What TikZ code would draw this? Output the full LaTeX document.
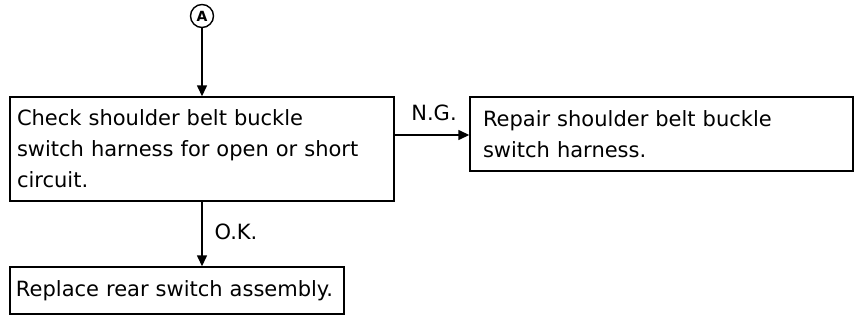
\documentclass[tikz,border=0pt]{standalone}
\usepackage{fontspec}
\setmainfont{DejaVu Sans}
\usetikzlibrary{arrows.meta}
\begin{document}
\begin{tikzpicture}[x=1pt,y=1pt,
  every node/.style={font=\fontsize{21}{31}\selectfont},
  box/.style={draw, line width=1.4pt, align=left, inner ysep=0pt, anchor=center},
  conn/.style={line width=1.4pt, -{Triangle[length=11pt,width=10pt]}},
  lbl/.style={inner sep=0pt}]
\useasboundingbox (0,0) rectangle (859,325);
\node[draw, circle, line width=1.4pt, minimum size=23pt, inner sep=0pt,
      font=\fontsize{14}{14}\selectfont\bfseries] (A) at (202,309) {A};
\node[box, minimum width=384pt, minimum height=104pt, text width=370pt, inner xsep=7pt]
  (b1) at (202,176) {Check shoulder belt buckle\\switch harness for open or short\\circuit.};
\node[box, minimum width=383pt, minimum height=74pt, text width=357pt, inner xsep=13pt]
  (b2) at (661.5,191) {Repair shoulder belt buckle\\switch harness.};
\node[box, minimum width=334pt, minimum height=47pt, text width=322pt, inner xsep=6pt]
  (b3) at (177,34.5) {\mbox{Replace rear switch assembly.}};
\coordinate (ngy) at (0,190);
\draw[conn] (A) -- (b1.north -| A);
\draw[conn] (b1.east |- ngy) -- (b2.west |- ngy);
\draw[conn] (b1.south -| A) -- (b3.north -| A);
\node[lbl] (ng) at (434,212) {N.G.};
\node[lbl] (ok) at (236,93) {O.K.};
\end{tikzpicture}
\end{document}
